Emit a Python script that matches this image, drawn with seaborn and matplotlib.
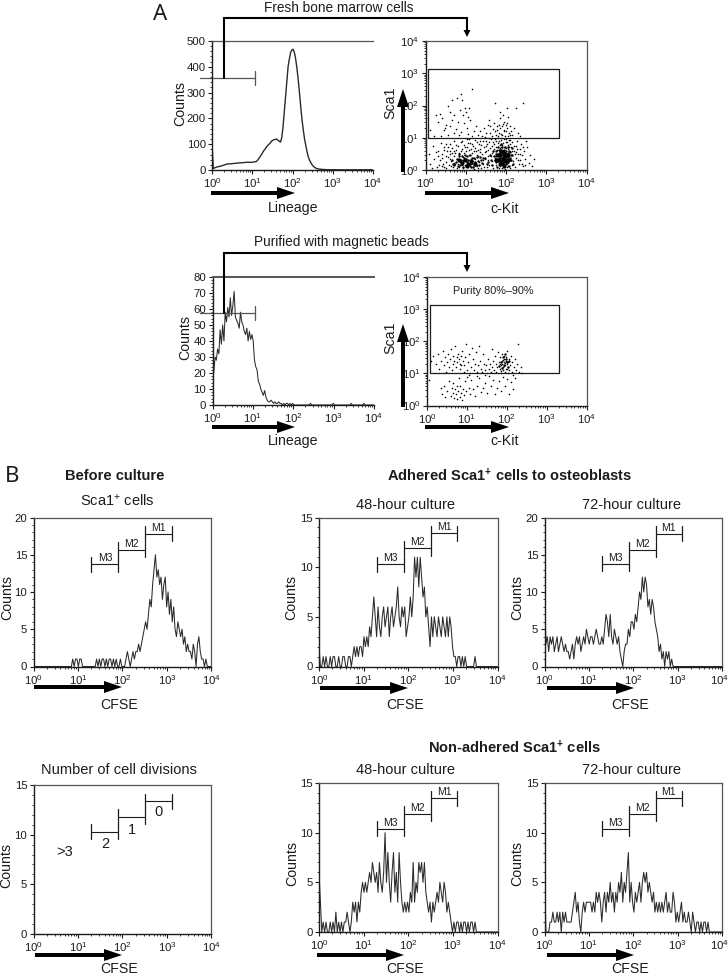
import numpy as np
import matplotlib
matplotlib.use("Agg")
import matplotlib.pyplot as plt
from matplotlib.ticker import FixedLocator, NullFormatter, FixedFormatter, MultipleLocator
from matplotlib.transforms import ScaledTranslation
from matplotlib.patches import Polygon, Rectangle
import seaborn as sns

sns.set_theme(style="ticks")
plt.rcParams['font.family'] = ['Liberation Sans', 'DejaVu Sans']
plt.rcParams['mathtext.fontset'] = 'custom'
plt.rcParams['mathtext.rm'] = 'Liberation Sans'
plt.rcParams['mathtext.bf'] = 'Liberation Sans:bold'
plt.rcParams['mathtext.default'] = 'regular'

INK = "#1c1c1c"
GRAY = "#555555"

# Histogram counts, one value per channel, channels evenly spaced over 4 log decades
lineage_fresh = [100, 6, 8, 10, 12, 13, 14, 15, 17, 18, 20, 22, 23, 24, 24, 24, 25, 25, 26, 26, 27, 27, 28, 28, 28, 29, 29, 30, 30, 30, 30, 30,
                 30, 31, 32, 33, 38, 45, 52, 60, 68, 76, 82, 90, 95, 100, 105, 112, 115, 118, 118, 120, 115, 112, 108, 125, 165, 225, 290, 350, 400, 430, 455, 465,
                 468, 455, 430, 395, 350, 300, 245, 195, 155, 120, 95, 70, 50, 38, 28, 20, 14, 10, 7, 5, 4, 3, 3, 2, 2, 2, 1, 1, 1, 1, 1, 1,
                 1, 1, 1, 0, 1, 1, 0, 1, 1, 0, 1, 1, 1, 0, 1, 1, 0, 1, 1, 0, 1, 1, 1, 0, 1, 1, 1, 0, 1, 1, 1, 0]
lineage_purified = [52, 20, 30, 28, 35, 32, 47, 38, 50, 40, 58, 52, 61, 55, 67, 56, 62, 71, 55, 53, 51, 48, 58, 52, 50, 46, 44, 48, 40, 46, 41, 44,
                    40, 28, 24, 22, 15, 13, 10, 8, 6, 9, 5, 3, 2, 2, 3, 2, 1, 2, 1, 1, 2, 1, 1, 0, 1, 0, 1, 1, 0, 1, 0, 1,
                    0, 0, 0, 0, 0, 0, 0, 0, 0, 0, 0, 0, 0, 1, 0, 0, 0, 0, 0, 0, 0, 0, 0, 0, 0, 0, 0, 0, 0, 0, 0, 1,
                    0, 0, 0, 0, 0, 0, 0, 0, 0, 0, 0, 0, 0, 1, 0, 0, 0, 0, 0, 0, 0, 0, 0, 1, 0, 0, 0, 0, 0, 0, 0, 0]
cfse_before = [0] * 28 + [1, 0, 1, 1, 0, 1, 1, 0] + [0] * 9 + [1, 0, 1, 0, 1, 1, 0, 1, 0, 1, 1, 0, 1, 0, 1, 0, 0, 1, 0, 0, 0] + \
    [1, 2, 1, 0, 1, 2, 1, 2, 2, 3, 2, 3, 4, 5, 6, 5, 7, 9, 8, 11, 13, 15, 12, 13, 11, 12, 9, 11, 12, 8, 10,
     7, 9, 6, 8, 5, 4, 6, 5, 4, 5, 3, 4, 2, 3, 2, 2, 1, 3, 2, 0, 3, 4, 2, 1, 1, 0, 1, 0, 0, 0, 0]
cfse_adh48 = [2, 0, 0, 1, 0, 1, 0, 0, 1, 0, 1, 1, 0, 0, 1, 0, 0, 1, 1, 0, 0, 1, 1, 0, 1, 2, 1, 2, 1, 2, 2, 1,
              3, 2, 3, 2, 4, 3, 5, 7, 5, 3, 6, 4, 3, 5, 6, 4, 5, 6, 3, 5, 6, 4, 5, 6, 8, 5, 4, 6, 5, 6, 3, 4,
              5, 7, 5, 7, 11, 9, 11, 8, 11, 9, 7, 8, 5, 6, 4, 2, 5, 3, 5, 4, 3, 5, 4, 3, 5, 4, 3, 5, 3, 5, 4, 2,
              1, 1, 0, 1, 1, 0, 1, 0, 1, 0, 0, 0, 0, 0, 0, 1] + [0] * 16
cfse_adh72 = [11, 3, 4, 2, 4, 3, 4, 2, 3, 4, 2, 3, 4, 3, 2, 3, 2, 2, 1, 2, 3, 1, 3, 4, 3, 4, 2, 3, 4, 3, 5, 4,
              3, 4, 4, 3, 4, 5, 4, 3, 3, 4, 3, 5, 7, 6, 4, 7, 4, 3, 5, 4, 3, 4, 2, 1, 0, 2, 3, 3, 5, 4, 6, 6,
              5, 7, 6, 8, 10, 9, 12, 10, 12, 11, 8, 9, 7, 9, 8, 6, 5, 4, 2, 3, 1, 2, 0, 2, 1, 2, 0, 1] + [0] * 36
cfse_non48 = [6, 3, 0, 1, 0, 1, 0, 0, 1, 0, 1, 0, 2, 0, 1, 0, 1, 0, 1, 1, 2, 1, 0, 1, 3, 2, 3, 1, 3, 2, 4, 5,
              4, 5, 4, 5, 6, 5, 7, 6, 5, 6, 4, 7, 5, 4, 6, 10, 5, 8, 5, 3, 6, 8, 4, 6, 3, 8, 5, 3, 2, 3, 2, 3,
              2, 4, 3, 7, 3, 5, 4, 7, 6, 7, 5, 7, 4, 3, 2, 3, 1, 3, 2, 3, 4, 3, 5, 4, 3, 5, 4, 2, 3, 2, 1, 0,
              1, 0, 1, 1, 0, 1, 0, 1, 1, 0, 1, 0, 1, 1, 0, 1, 0, 0] + [0] * 14
cfse_non72 = [7, 0, 0, 0, 1, 1, 2, 1, 1, 2, 1, 2, 0, 2, 1, 2, 1, 1, 1, 1, 2, 3, 4, 2, 3, 1, 0, 2, 3, 2, 3, 3,
              3, 3, 2, 3, 2, 4, 3, 4, 3, 1, 3, 4, 2, 4, 3, 5, 3, 4, 2, 4, 3, 5, 4, 6, 3, 5, 4, 6, 8, 3, 5, 3,
              2, 4, 3, 4, 5, 3, 5, 6, 5, 6, 4, 5, 4, 3, 4, 2, 3, 2, 3, 2, 3, 2, 3, 4, 2, 3, 2, 2, 4, 3, 1, 2,
              1, 2, 3, 1, 2, 1, 1, 2, 1, 0, 2, 1, 0, 1, 1, 0, 1, 0, 1, 1, 0, 1, 0, 0] + [0] * 8

# Dot plots, (c-Kit decade, Sca1 decade)
fresh_dots = [
    (.88, 2.35), (1.15, 2.5), (.65, 2.18), (.78, 2.23), (.9, 2.18), (1.07, 1.92), (.98, 1.92), (1.73, 2.07), (2.43, 2.07), (2.26, 1.92), (2.02, 1.92),
    (.55, 2.0), (.25, 1.7), (.35, 1.75), (.42, 1.62), (.6, 1.8), (.72, 1.72), (.85, 1.85), (.93, 1.72), (1.0, 1.8), (1.05, 1.65), (.5, 1.4), (.3, 1.5),
    (.45, 1.25), (.62, 1.35), (.8, 1.5), (.95, 1.45), (1.1, 1.55), (.7, 1.15), (.55, 1.1), (.38, 1.05), (.48, 1.3), (.66, 1.55), (.75, 1.28), (.88, 1.18),
    (1.02, 1.3), (1.2, 1.2), (1.3, 1.08), (1.45, 1.3), (1.6, 1.15), (1.7, 1.45), (1.78, 1.25), (1.85, 1.6), (1.9, 1.35), (1.95, 1.5), (2.0, 1.2),
    (2.05, 1.65), (2.1, 1.35), (1.55, 1.4), (1.65, 1.05), (1.75, 1.1), (1.82, 1.4), (1.88, 1.12), (1.92, 1.72), (1.98, 1.05), (2.03, 1.45), (2.08, 1.15),
    (2.15, 1.1), (2.2, 1.3), (1.4, 1.05), (1.5, 1.15), (1.6, 1.35), (1.72, 1.2), (1.8, 1.05), (1.86, 1.3), (1.9, 1.1), (1.96, 1.25), (2.0, 1.4), (2.06, 1.05),
    (2.12, 1.2), (.2, 1.05), (.1, 1.25), (.05, 1.6), (1.15, 1.05), (1.25, 1.35), (1.35, 1.2), (1.05, 1.12), (.82, 1.08), (2.3, 1.15), (2.35, 1.05), (1.85, 1.8),
    (1.95, 1.2), (1.83, 1.15), (1.77, 1.35), (1.68, 1.28), (2.02, 1.3), (2.1, 1.08), (1.93, 1.42), (1.58, 1.55), (1.48, 1.02),
    (.08, .5), (.12, .2), (.18, .75), (.22, .35), (.28, .1), (.3, .6), (.35, .3), (.38, .85), (.4, .12), (.42, .5), (.46, .72), (.5, .25), (.52, .05), (.54, .6),
    (.56, .4), (.58, .15), (.6, .82), (.62, .5), (.64, .28), (.66, .68), (.68, .08), (.7, .42), (.72, .9), (.74, .2), (.76, .62), (.78, .35), (.8, .75), (.82, .1),
    (.84, .52), (.86, .25), (.88, .88), (.9, .65), (.92, .05), (.94, .4), (.96, .78), (.98, .15), (1.0, .58), (1.02, .95), (1.04, .72), (1.06, .08), (1.08, .45),
    (1.1, .85), (1.12, .65), (1.14, .18), (1.16, .52), (1.18, .75), (1.2, .04), (1.22, .35), (1.24, .92), (1.26, .6), (1.28, .12), (1.3, .42), (1.32, .8), (1.34, .25),
    (1.36, .66), (1.38, .05), (1.4, .5), (1.42, .9), (1.44, .2), (1.46, .72), (1.48, .34), (1.5, .58), (1.52, .08), (1.54, .82), (1.56, .44), (1.58, .15), (1.6, .68),
    (1.62, .95), (1.64, .28), (1.66, .52), (1.68, .06), (1.7, .8), (1.72, .38), (1.74, .9), (1.76, .16), (1.78, .62), (1.8, .98), (1.82, .05), (1.84, .78), (1.86, .12),
    (1.88, .92), (1.9, .06), (1.92, .85), (1.94, .1), (1.96, .96), (1.98, .04), (2.0, .88), (2.02, .08), (2.04, .78), (2.06, .12), (2.08, .94), (2.1, .05), (2.12, .7),
    (2.14, .16), (2.16, .86), (2.18, .28), (2.2, .6), (2.22, .09), (2.24, .75), (2.26, .36), (2.28, .9), (2.3, .5), (2.32, .18), (2.34, .66), (2.36, .3), (2.38, .8),
    (2.4, .45), (2.42, .12), (2.44, .58), (2.48, .34), (2.52, .72), (2.56, .22), (2.6, .48), (2.65, .12), (2.7, .35), (2.5, .9), (.15, .05), (.25, .55), (.32, .42),
    (.44, .2), (.6, .33), (.7, .58), (.8, .18), (.92, .3), (1.1, .3), (1.3, .62), (1.45, .1), (1.55, .3), (1.65, .75), (1.85, .68), (2.05, .66), (2.25, .55),
    (.34, .16), (.4, .38), (.47, .08), (.51, .44), (.57, .7), (.63, .12), (.67, .52), (.71, .22), (.75, .78), (.79, .05), (.83, .32), (.87, .6), (.91, .15), (.95, .52),
    (.99, .7), (1.03, .2), (1.07, .62), (1.11, .12), (1.15, .82), (1.19, .28), (1.23, .68), (1.27, .45), (1.31, .05), (1.35, .56), (1.39, .78), (1.43, .32), (1.47, .55),
    (1.51, .74), (1.55, .62), (1.59, .86), (1.63, .42), (1.67, .88), (1.71, .66), (1.75, .72), (1.79, .84), (1.83, .9), (1.87, .72), (1.91, .78), (1.95, .72), (1.99, .68),
    (2.03, .88), (2.07, .7), (2.11, .82), (2.15, .6), (2.19, .74), (2.23, .5), (2.27, .66), (2.31, .3), (2.35, .5), (2.39, .2), (2.43, .7), (2.47, .14), (1.08, .95), (1.28, .88),
    (1.58, .98), (1.72, .96), (1.88, .98), (2.0, .96), (2.1, .92), (.45, .62), (.52, .82), (.6, .6), (.74, .52), (.9, .9), (1.06, .85), (1.2, .6), (1.35, .9), (1.5, .9),
]
fresh_core = [
    (1.55, .25), (1.6, .45), (1.65, .15), (1.68, .6), (1.72, .3), (1.75, .5), (1.78, .1), (1.8, .72), (1.82, .38), (1.84, .2), (1.86, .55), (1.88, .8), (1.9, .3), (1.92, .45),
    (1.94, .15), (1.96, .62), (1.98, .35), (2.0, .5), (2.02, .22), (2.04, .7), (2.06, .4), (2.08, .12), (2.1, .55), (2.12, .3), (2.14, .45), (2.16, .68), (2.18, .2),
    (1.75, .25), (1.8, .5), (1.85, .35), (1.9, .55), (1.95, .42), (2.0, .3), (2.05, .52), (2.1, .38), (1.86, .42), (1.93, .32), (2.03, .42), (1.83, .62), (1.97, .52),
    (1.7, .42), (1.74, .6), (1.78, .35), (1.82, .5), (1.84, .28), (1.87, .62), (1.89, .18), (1.91, .38), (1.93, .58), (1.95, .25), (1.97, .44), (1.99, .6), (2.01, .4), (2.03, .32),
    (2.05, .24), (2.07, .6), (2.09, .3), (1.88, .5), (1.92, .25), (1.96, .35), (1.86, .3), (2.0, .2), (1.8, .28), (1.76, .42), (1.9, .7), (1.98, .72), (2.12, .48), (1.62, .32),
    (.72, .15), (.78, .35), (.84, .5), (.9, .2), (.95, .38), (1.0, .12), (1.05, .3), (1.1, .48), (1.15, .22), (1.2, .38), (1.25, .16), (1.3, .28), (.88, .3), (.98, .45),
    (1.08, .18), (1.18, .1), (1.35, .4), (.8, .12), (.92, .08), (1.12, .08), (1.4, .22), (1.48, .38), (1.02, .24), (1.12, .32), (.65, .3), (.68, .18), (.76, .25), (.82, .42),
    (.86, .16), (.94, .28), (1.04, .42), (1.1, .2), (1.16, .36), (1.22, .26), (1.28, .4), (1.32, .14), (.9, .44), (1.0, .34), (1.2, .14), (1.38, .3), (1.44, .36), (1.52, .2),
]
# the two parts of the fresh plot that print as solid black
fresh_mass = [(1.82, .32), (1.86, .45), (1.9, .22), (1.92, .38), (1.95, .52), (1.98, .28), (2.0, .42), (1.88, .6), (1.84, .18), (2.04, .3), (1.94, .12), (1.8, .48), (2.06, .46), (1.76, .3),
              (.9, .22), (.98, .3), (1.06, .18), (1.14, .28), (.84, .3), (1.02, .12), (1.22, .2)]
purified_dots = [
    (.1, 1.4), (.15, 1.55), (.22, 1.3), (.28, 1.6), (.3, 1.15), (.35, 1.4), (.4, 1.7), (.42, 1.25), (.45, 1.5), (.48, 1.05), (.5, 1.35), (.53, 1.6), (.56, 1.2), (.58, 1.45),
    (.6, 1.75), (.62, 1.1), (.64, 1.3), (.66, 1.55), (.68, 1.4), (.7, 1.85), (.72, 1.2), (.74, 1.5), (.76, 1.35), (.78, 1.6), (.8, 1.45), (.82, 1.15), (.84, 1.3), (.86, 1.55),
    (.88, 1.7), (.9, 1.4), (.92, 1.05), (.94, 1.25), (.96, 1.5), (.98, 1.9), (1.0, 1.1), (1.02, 1.35), (1.05, 1.6), (1.08, 1.02), (1.1, 1.2), (1.12, 1.8), (1.15, 1.45), (1.18, 1.1),
    (1.2, 1.3), (1.22, 1.65), (1.25, 1.05), (1.28, 1.25), (1.3, 1.85), (1.32, 1.4), (1.35, 1.15), (1.38, 1.05), (1.4, 1.6), (1.42, 1.3), (1.45, 1.1), (1.48, 1.25), (1.5, 1.0),
    (1.52, 1.45), (1.55, 1.15), (1.58, 1.3), (1.6, 1.05), (1.62, 1.75), (1.64, 1.2), (1.66, 1.4), (1.68, 1.1), (1.7, 1.55), (1.72, 1.3), (1.74, 1.05), (1.76, 1.2), (1.78, 1.65),
    (1.8, 1.35), (1.82, 1.15), (1.83, 1.5), (1.85, 1.25), (1.86, 1.0), (1.87, 1.4), (1.88, 1.6), (1.89, 1.3), (1.9, 1.1), (1.91, 1.2), (1.92, 1.45), (1.93, 1.35), (1.94, 1.55),
    (1.95, 1.05), (1.96, 1.25), (1.97, 1.4), (1.98, 1.15), (1.99, 1.5), (2.0, 1.3), (2.01, 1.7), (2.02, 1.2), (2.03, 1.0), (2.04, 1.35), (2.05, 1.45), (2.06, 1.1), (2.08, 1.25),
    (2.1, 1.55), (2.12, 1.05), (2.14, 1.35), (2.16, .95), (2.18, 1.2), (2.2, 1.45), (2.22, 1.1), (2.25, 1.3), (2.28, 1.9), (2.3, 1.05), (2.35, 1.2), (2.38, 1.0), (.85, 1.25), (1.82, 1.28),
    (1.9, 1.42), (1.95, 1.32), (2.0, 1.15), (1.85, 1.08), (1.92, 1.22), (1.98, 1.38), (.05, .8), (.35, .55), (.38, .35), (.42, .6), (.45, .25), (.5, .45), (.55, .75), (.6, .3), (.62, .55),
    (.65, .7), (.66, .4), (.68, .22), (.7, .5), (.72, .35), (.75, .6), (.76, .2), (.78, .45), (.8, .85), (.82, .28), (.84, .62), (.86, .4), (.88, .18), (.9, .5), (.92, .32), (.95, .75),
    (.98, .45), (1.0, .9), (1.05, .55), (1.08, .35), (1.1, .78), (1.15, .5), (1.2, .3), (1.25, .62), (1.3, .85), (1.35, .42), (1.4, .55), (1.45, .7), (1.5, .38), (1.55, .92), (1.6, .6),
    (1.65, .8), (1.7, .35), (1.75, .55), (1.8, .75), (1.85, .45), (1.9, .88), (1.95, .6), (2.0, .82), (2.05, .35), (2.1, .72), (2.15, .5), (2.2, .85), (1.05, .95), (1.25, .92), (1.45, .95),
]
purified_core = [(1.85, 1.35), (1.9, 1.5), (1.93, 1.25), (1.97, 1.45), (2.0, 1.35), (2.04, 1.2), (1.88, 1.18), (1.95, 1.6), (2.06, 1.38), (1.8, 1.22)]

# Marker gates: bar ends in CFSE units and the height of M1, M2, M3 in each panel
gate_edges = [20, 81, 320, 1265]
gate_before = [17.8, 15.7, 13.75]
gate_adh48 = [13.4, 11.9, 10.3]
gate_adh72 = [17.8, 15.7, 13.8]
gate_divisions = [13.36, 11.8, 10.3]
gate_non48 = [13.45, 11.9, 10.4]
gate_non72 = [13.45, 11.9, 10.4]
gate_names = ["M1", "M2", "M3"]
division_names = ["0", "1", "2"]

log_ticks = [1, 10, 100, 1000, 10000]
log_labels = ["10$^{0}$", "10$^{1}$", "10$^{2}$", "10$^{3}$", "10$^{4}$"]
minor_subs = [m * 10 ** d for d in range(4) for m in range(2, 10)]

W, H = 728, 976
fig = plt.figure(figsize=(W / 100, H / 100), dpi=100, facecolor="white")


def panel(left, top, right, bottom, ymax, ystep, yminor, open_right=False):
    ax = fig.add_axes([left / W, 1 - bottom / H, (right - left) / W, (bottom - top) / H])
    ax.set_xscale("log")
    ax.set_xlim(1, 10000)
    ax.set_ylim(0, ymax)
    ax.xaxis.set_major_locator(FixedLocator(log_ticks))
    ax.xaxis.set_major_formatter(FixedFormatter(log_labels))
    ax.xaxis.set_minor_locator(FixedLocator(minor_subs))
    ax.xaxis.set_minor_formatter(NullFormatter())
    ax.yaxis.set_major_locator(MultipleLocator(ystep))
    ax.yaxis.set_minor_locator(MultipleLocator(yminor))
    ax.tick_params(which="major", length=3, width=.8, labelsize=8.2, pad=1.5, color=INK, labelcolor=INK)
    ax.tick_params(which="minor", length=1.6, width=.6, color=INK)
    for side in ["left", "bottom"]:
        ax.spines[side].set_linewidth(1.0)
        ax.spines[side].set_color(INK)
    for side in ["top", "right"]:
        ax.spines[side].set_linewidth(.9)
        ax.spines[side].set_color(GRAY)
    if open_right:
        ax.spines["right"].set_visible(False)
    return ax


def histogram(ax, counts, lw=.75):
    x = 10 ** np.linspace(0, 4, len(counts))
    sns.lineplot(x=x, y=counts, ax=ax, color="#2a2a2a", lw=lw, estimator=None, errorbar=None, legend=False)
    ax.set_xlabel("")
    ax.set_ylabel("")


def gates(ax, heights, names, cap, label_gap):
    for i, y in enumerate(heights):
        lo, hi = gate_edges[2 - i], gate_edges[3 - i]
        ax.plot([lo, hi], [y, y], color=INK, lw=.8)
        ax.plot([lo, lo], [y - cap, y + cap], color=INK, lw=.9)
        ax.plot([hi, hi], [y - cap, y + cap], color=INK, lw=.9)
        if names == gate_names:
            ax.text(np.sqrt(lo * hi), y + label_gap, names[i], ha="center", va="bottom", fontsize=7.5, color=INK)


def dotplot(ax, dots, core, mass=None):
    layers = [(dots, 1.3), (core, 3)]
    if mass:
        layers.append((mass, 9))
    for pts, size in layers:
        xy = 10 ** np.array(pts)
        sns.scatterplot(x=xy[:, 0], y=xy[:, 1], ax=ax, color="black", s=size, marker="o", linewidth=0, legend=False)
    ax.set_yscale("log")
    ax.set_ylim(1, 10000)
    ax.yaxis.set_major_locator(FixedLocator(log_ticks))
    ax.yaxis.set_major_formatter(FixedFormatter(log_labels))
    ax.yaxis.set_minor_locator(FixedLocator(minor_subs))
    ax.yaxis.set_minor_formatter(NullFormatter())
    ax.plot([1.17, 2050, 2050, 1.17, 1.17], [1380, 1380, 10, 10, 1380], color=INK, lw=.9)


def pull_last_label(ax):
    # keeps the 10^4 of the right hand panels inside the picture
    lab = ax.get_xticklabels()[-1]
    lab.set_transform(lab.get_transform() + ScaledTranslation(-2 / 100, 0, fig.dpi_scale_trans))


# Panel A
a1 = panel(212, 41, 373, 170, 500, 100, 20, open_right=True)
histogram(a1, lineage_fresh, lw=1.0)
a1.plot([0.5, 11.5], [357, 357], color=GRAY, lw=.9, clip_on=False)
a1.plot([11.5, 11.5], [330, 384], color=GRAY, lw=.9)

a2 = panel(425.5, 41, 586.5, 170, 500, 100, 20)
dotplot(a2, fresh_dots, fresh_core, fresh_mass)

a3 = panel(212.5, 277, 374, 405, 80, 10, 2, open_right=True)
a3.spines["top"].set_linewidth(1.4)
histogram(a3, lineage_purified)
a3.plot([0.5, 11.5], [57.5, 57.5], color=GRAY, lw=.9, clip_on=False)
a3.plot([11.5, 11.5], [53, 62], color=GRAY, lw=.9)

a4 = panel(427, 277, 586.5, 405.5, 500, 100, 20)
dotplot(a4, purified_dots, purified_core)

# Panel B
b1 = panel(33.5, 517.5, 211.5, 666.5, 20, 5, 1)
histogram(b1, cfse_before)
gates(b1, gate_before, gate_names, 1.0, 0.1)
b2 = panel(319, 517.5, 497.5, 666.5, 15, 5, 1)
histogram(b2, cfse_adh48)
gates(b2, gate_adh48, gate_names, .75, 0.1)
b3 = panel(544.5, 517.5, 722, 666.5, 20, 5, 1)
histogram(b3, cfse_adh72)
gates(b3, gate_adh72, gate_names, 1.0, 0.1)
pull_last_label(b3)
b4 = panel(33.5, 785, 211.5, 934, 15, 5, 1)
gates(b4, gate_divisions, division_names, .75, 0)
b4.text(np.sqrt(gate_edges[2] * gate_edges[3]), 12.3, "0", ha="center", va="center", fontsize=10.5, color=INK)
b4.text(np.sqrt(gate_edges[1] * gate_edges[2]), 10.5, "1", ha="center", va="center", fontsize=10.5, color=INK)
b4.text(np.sqrt(gate_edges[0] * gate_edges[1]), 9.05, "2", ha="center", va="center", fontsize=10.5, color=INK)
b4.text(5.1, 8.3, ">3", ha="center", va="center", fontsize=10.5, color=INK)
b5 = panel(319, 783, 497.5, 932, 15, 5, 1)
histogram(b5, cfse_non48)
gates(b5, gate_non48, gate_names, .75, 0.1)
b6 = panel(544.5, 783, 722, 932, 15, 5, 1)
histogram(b6, cfse_non72)
gates(b6, gate_non72, gate_names, .75, 0.1)
pull_last_label(b6)

# Overlay in picture pixels for arrows, connectors and all the captions
top = fig.add_axes([0, 0, 1, 1], facecolor="none")
top.set_xlim(0, W)
top.set_ylim(H, 0)
top.axis("off")


def fat_right(x0, x1, y):
    top.add_patch(Rectangle((x0, y - 2.2), x1 - x0 - 17, 4.4, color="black", lw=0))
    top.add_patch(Polygon([(x1 - 18, y - 6), (x1, y), (x1 - 18, y + 6)], color="black", lw=0))


def fat_up(x, y0, y1):
    top.add_patch(Rectangle((x - 2.2, y1 + 17), 4.4, y0 - y1 - 17, color="black", lw=0))
    top.add_patch(Polygon([(x - 6, y1 + 18), (x, y1), (x + 6, y1 + 18)], color="black", lw=0))


def connector(x0, x1, y_start, y_top, y_end):
    top.plot([x0, x0, x1, x1], [y_start, y_top, y_top, y_end - 6], color="black", lw=1.5, solid_joinstyle="miter")
    top.add_patch(Polygon([(x1 - 3.5, y_end - 7), (x1, y_end), (x1 + 3.5, y_end - 7)], color="black", lw=0))


for x0, x1, y in [(211, 295, 193), (425, 509, 193), (212, 295, 427), (425, 509, 427), (34, 122, 687), (320, 408, 688),
                  (547, 634, 688), (35, 122, 955), (317, 404, 955), (547, 634, 955)]:
    fat_right(x0, x1, y)
fat_up(403, 172, 89)
fat_up(403, 407, 324)
connector(224, 467, 78, 18, 37)
connector(224, 467, 313, 253, 272)


def caption(x, y, s, size=10.5, **kw):
    top.text(x, y, s, ha="center", va="center", fontsize=size, color=INK, **kw)


caption(160, 15, "A", size=16, fontfamily="Noto Sans", fontweight="light")
caption(12, 477, "B", size=16, fontfamily="Noto Sans", fontweight="light")
caption(339, 8, "Fresh bone marrow cells", size=9.8)
caption(341, 242, "Purified with magnetic beads", size=9.8)
caption(493, 291, "Purity 80%\u201390%", size=7.8)
caption(115, 476, "Before culture", fontweight="bold")
caption(117, 501, "Sca1$^{+}$ cells")
caption(509.5, 476, r"Adhered Sca1$^{\mathbf{+}}$ cells to osteoblasts", fontweight="bold")
caption(406, 505, "48-hour culture")
caption(631, 505, "72-hour culture")
caption(119, 770, "Number of cell divisions")
caption(515, 748, r"Non-adhered Sca1$^{\mathbf{+}}$ cells", fontweight="bold")
caption(406, 770, "48-hour culture")
caption(631, 770, "72-hour culture")

for x, y, s in [(293, 208, "Lineage"), (505, 209, "c-Kit"), (293, 441, "Lineage"), (505, 441, "c-Kit"),
                (119, 705, "CFSE"), (405, 705, "CFSE"), (630, 705, "CFSE"),
                (119, 969, "CFSE"), (405, 969, "CFSE"), (630, 969, "CFSE")]:
    caption(x, y, s, size=10.2)
for x, y, s in [(180, 103, "Counts"), (185, 337, "Counts"), (7, 597, "Counts"), (291, 597, "Counts"), (517, 597, "Counts"),
                (6, 866, "Counts"), (292, 863, "Counts"), (517, 863, "Counts"), (390, 103, "Sca1"), (390, 338, "Sca1")]:
    caption(x, y, s, size=10.2, rotation=90)

fig.savefig("out.png", dpi=100)
